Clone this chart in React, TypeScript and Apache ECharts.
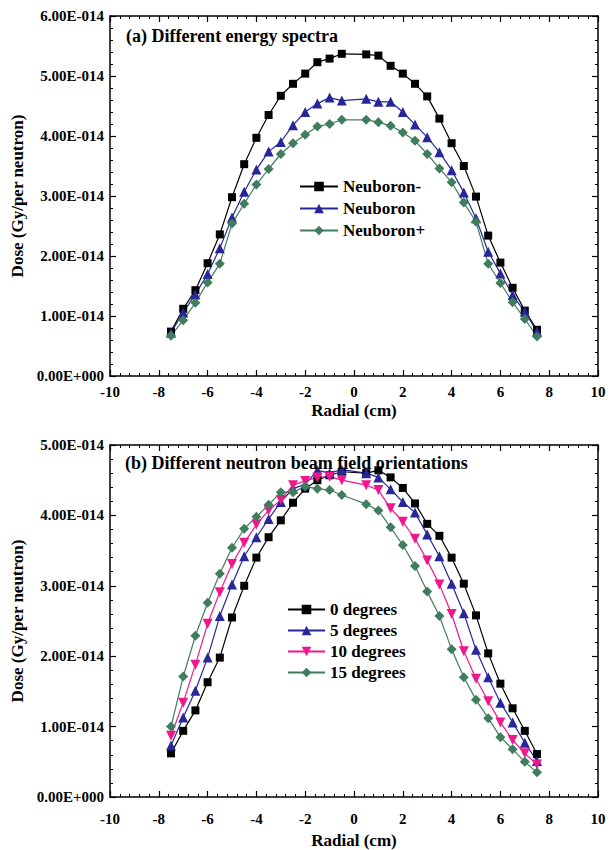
import React, { useEffect, useRef } from "react";
import * as echarts from "echarts";

const radial = [
  -7.5, -7, -6.5, -6, -5.5, -5, -4.5, -4, -3.5, -3, -2.5, -2, -1.5, -1, -0.5,
  0.5, 1, 1.5, 2, 2.5, 3, 3.5, 4, 4.5, 5, 5.5, 6, 6.5, 7, 7.5,
];

// Panel (a), dose in units of 1E-14 Gy per neutron
const neuboronMinus = [
  0.74, 1.12, 1.43, 1.88, 2.36, 2.98, 3.53, 3.97, 4.35, 4.67, 4.87, 5.04, 5.23, 5.29, 5.37,
  5.36, 5.34, 5.17, 5.04, 4.87, 4.66, 4.29, 3.88, 3.5, 2.99, 2.34, 1.89, 1.47, 1.09, 0.77,
];
const neuboron = [
  0.72, 1.06, 1.36, 1.7, 2.13, 2.64, 3.07, 3.44, 3.74, 3.9, 4.18, 4.4, 4.54, 4.64, 4.59,
  4.62, 4.57, 4.57, 4.4, 4.19, 3.98, 3.73, 3.43, 3.06, 2.63, 2.07, 1.71, 1.35, 1.07, 0.74,
];
const neuboronPlus = [
  0.67, 0.93, 1.22, 1.56, 1.87, 2.54, 2.87, 3.19, 3.45, 3.7, 3.88, 4.02, 4.16, 4.2, 4.27,
  4.27, 4.23, 4.17, 4.06, 3.92, 3.7, 3.46, 3.23, 2.89, 2.57, 1.87, 1.55, 1.23, 0.95, 0.66,
];

// Panel (b)
const deg0 = [
  0.62, 0.94, 1.23, 1.63, 1.98, 2.55, 3.0, 3.4, 3.69, 3.93, 4.18, 4.38, 4.5, 4.57, 4.62,
  4.6, 4.64, 4.54, 4.39, 4.17, 3.88, 3.71, 3.4, 3.03, 2.58, 2.04, 1.61, 1.26, 0.94, 0.61,
];
const deg5 = [
  0.73, 1.13, 1.51, 1.98, 2.57, 3.02, 3.42, 3.69, 3.95, 4.19, 4.38, 4.44, 4.64, 4.6, 4.65,
  4.6, 4.54, 4.37, 4.19, 4.04, 3.73, 3.42, 3.03, 2.61, 2.09, 1.7, 1.34, 1.06, 0.77, 0.51,
];
const deg10 = [
  0.87, 1.34, 1.88, 2.46, 2.91, 3.31, 3.61, 3.87, 4.07, 4.22, 4.43, 4.49, 4.54, 4.55, 4.5,
  4.43, 4.36, 4.1, 3.91, 3.67, 3.36, 3.02, 2.6, 2.07, 1.68, 1.36, 1.06, 0.81, 0.62, 0.46,
];
const deg15 = [
  1.0, 1.71, 2.29, 2.76, 3.17, 3.54, 3.81, 3.98, 4.15, 4.33, 4.33, 4.41, 4.38, 4.36, 4.29,
  4.16, 4.07, 3.83, 3.58, 3.28, 2.92, 2.57, 2.1, 1.7, 1.38, 1.12, 0.85, 0.68, 0.5, 0.35,
];

const titleA = "(a) Different energy spectra";
const titleB = "(b) Different neutron beam field orientations";
const xName = "Radial (cm)";
const yName = "Dose (Gy/per neutron)";

const FONT = '"Liberation Serif", "Times New Roman", serif';

const fmtY = (v: number) => (Math.abs(v) < 1e-9 ? "0.00E+000" : v.toFixed(2) + "E-014");

const pair = (ys: number[]) => radial.map((x, i) => [x, ys[i]]);

export default function App() {
  const ref = useRef<HTMLDivElement>(null);
  useEffect(() => {
    if (!ref.current) return;
    const chart = echarts.init(ref.current, undefined, { renderer: "svg" });

    const axisLine = { show: true, onZero: false, lineStyle: { color: "#000", width: 1.5 } };
    const tickBase = { show: true, inside: true, length: 6, lineStyle: { color: "#000", width: 1.2 } };
    const minor = { show: true, splitNumber: 5, length: 3, lineStyle: { color: "#000", width: 1 } };
    const label = { color: "#000", fontFamily: FONT, fontWeight: "bold" as const, fontSize: 15 };
    const nameStyle = { color: "#000", fontFamily: FONT, fontWeight: "bold" as const, fontSize: 17 };

    const mkX = (grid: number, gap: number, margin: number) => [
      {
        type: "value", gridIndex: grid, min: -10, max: 10, interval: 2, position: "bottom",
        axisLine, axisTick: tickBase, minorTick: minor, splitLine: { show: false },
        axisLabel: { ...label, margin },
        name: xName, nameLocation: "middle", nameGap: gap, nameTextStyle: nameStyle,
      },
      {
        type: "value", gridIndex: grid, min: -10, max: 10, interval: 2, position: "top",
        axisLine, axisTick: tickBase, minorTick: minor, splitLine: { show: false },
        axisLabel: { show: false },
      },
    ];
    const mkY = (grid: number, max: number) => [
      {
        type: "value", gridIndex: grid, min: 0, max, interval: 1, position: "left",
        axisLine, axisTick: tickBase, minorTick: minor, splitLine: { show: false },
        axisLabel: { ...label, margin: 6, formatter: fmtY },
        name: yName, nameLocation: "middle", nameGap: 71, nameTextStyle: nameStyle,
      },
      {
        type: "value", gridIndex: grid, min: 0, max, interval: 1, position: "right",
        axisLine, axisTick: tickBase, minorTick: minor, splitLine: { show: false },
        axisLabel: { show: false },
      },
    ];

    const mkSeries = (
      name: string, ys: number[], color: string, symbol: string, size: number,
      xi: number, yi: number, rotate = 0
    ) => ({
      name, type: "line", data: pair(ys), xAxisIndex: xi, yAxisIndex: yi,
      symbol, symbolSize: size, symbolRotate: rotate,
      lineStyle: { color, width: 1.2 }, itemStyle: { color },
    });

    const BLACK = "#000000";
    const BLUE = "#27279a";
    const PINK = "#f0168c";
    const GREEN = "#3f7d5d";

    const option = {
      animation: false,
      backgroundColor: "#fff",
      title: [
        { text: titleA, left: 121, top: 22, textStyle: { ...nameStyle, fontSize: 18 } },
        { text: titleB, left: 120, top: 449, textStyle: { ...nameStyle, fontSize: 18 } },
      ],
      grid: [
        { left: 110, top: 16, width: 488, height: 360 },
        { left: 110, top: 445, width: 488, height: 352 },
      ],
      xAxis: [...mkX(0, 26, 8), ...mkX(1, 35, 14)],
      yAxis: [...mkY(0, 6), ...mkY(1, 5)],
      legend: [
        {
          data: ["Neuboron-", "Neuboron", "Neuboron+"],
          orient: "vertical", left: 299, top: 178, itemWidth: 38, itemHeight: 12, itemGap: 5,
          textStyle: { ...nameStyle }, padding: 0,
        },
        {
          data: ["0 degrees", "5 degrees", "10 degrees", "15 degrees"],
          orient: "vertical", left: 287, top: 601, itemWidth: 37, itemHeight: 12, itemGap: 4,
          textStyle: { ...nameStyle }, padding: 0,
        },
      ],
      series: [
        mkSeries("Neuboron-", neuboronMinus, BLACK, "rect", 8, 0, 0),
        mkSeries("Neuboron", neuboron, BLUE, "triangle", 10, 0, 0),
        mkSeries("Neuboron+", neuboronPlus, GREEN, "diamond", 10, 0, 0),
        mkSeries("0 degrees", deg0, BLACK, "rect", 8, 2, 2),
        mkSeries("5 degrees", deg5, BLUE, "triangle", 10, 2, 2),
        mkSeries("10 degrees", deg10, PINK, "triangle", 10, 2, 2, 180),
        mkSeries("15 degrees", deg15, GREEN, "diamond", 10, 2, 2),
      ],
    };
    chart.setOption(option as any);
    return () => chart.dispose();
  }, []);
  return (
    <div
      ref={ref}
      style={{ position: "fixed", left: 0, top: 0, width: 616, height: 850, background: "#fff" }}
    />
  );
}
